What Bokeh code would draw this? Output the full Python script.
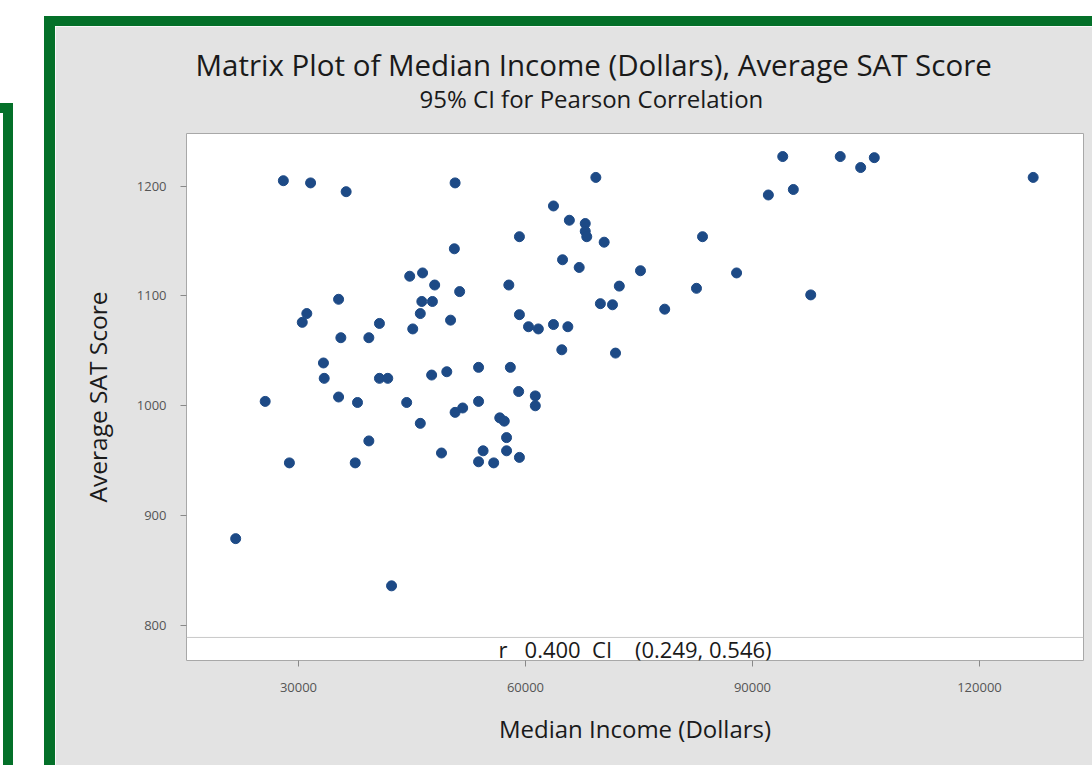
from bokeh.plotting import figure
from bokeh.models import Range1d, FixedTicker, Title, Span, Label, Div, Spacer, BasicTickFormatter
from bokeh.layouts import row, column
from bokeh.embed import file_html
from bokeh.resources import INLINE

# ---------------- data ----------------
median_income = [
    28000, 31600, 36300, 50700, 69300, 94000, 101600, 104300, 106100, 92100,
    95400, 127100, 63700, 65800, 67900, 67900, 68100, 70400, 59200, 83400,
    50600, 64900, 67100, 75200, 44700, 46400, 48000, 57800, 72400, 82600,
    87900, 51300, 97700, 35300, 46300, 47700, 69900, 71500, 78400, 31100,
    30500, 46100, 40700, 45100, 50100, 59200, 60400, 61700, 63700, 65600,
    35600, 39300, 64800, 71900, 33300, 33400, 40700, 41800, 47600, 49600,
    53800, 58000, 25600, 35300, 37800, 44300, 59100, 61300, 61300, 50700,
    51700, 53800, 56600, 57200, 46100, 39300, 57500, 57500, 54400, 48900,
    53800, 55800, 59200, 28800, 37500, 21700, 42300,
]
average_sat = [
    1205, 1203, 1195, 1203, 1208, 1227, 1227, 1217, 1226, 1192,
    1197, 1208, 1182, 1169, 1166, 1159, 1154, 1149, 1154, 1154,
    1143, 1133, 1126, 1123, 1118, 1121, 1110, 1110, 1109, 1107,
    1121, 1104, 1101, 1097, 1095, 1095, 1093, 1092, 1088, 1084,
    1076, 1084, 1075, 1070, 1078, 1083, 1072, 1070, 1074, 1072,
    1062, 1062, 1051, 1048, 1039, 1025, 1025, 1025, 1028, 1031,
    1035, 1035, 1004, 1008, 1003, 1003, 1013, 1009, 1000, 994,
    998, 1004, 989, 986, 984, 968, 971, 959, 959, 957,
    949, 948, 953, 948, 948, 879, 836,
]
x_ticks = [30000, 60000, 90000, 120000]
y_ticks = [800, 900, 1000, 1100, 1200]
r_value = 0.400
ci_low, ci_high = 0.249, 0.546

title_text = "Matrix Plot of Median Income (Dollars), Average SAT Score"
subtitle_text = "95% CI for Pearson Correlation"
x_label = "Median Income (Dollars)"
y_label = "Average SAT Score"

# ---------------- style ----------------
GREEN = "#047029"
PANEL = "#e3e3e3"
POINT = "#1d4a86"
FONT = "Open Sans"
NB = "\u00a0"

x_lo, x_hi = 15200, 133750
y_lo, y_hi = 768, 1248
strip_line = 789
strip_text_y = 778.6

p = figure(width=1037, height=739,
           x_range=Range1d(x_lo, x_hi), y_range=Range1d(y_lo, y_hi),
           output_backend="svg", toolbar_location=None,
           min_border_left=131, min_border_right=9,
           min_border_top=107, min_border_bottom=105,
           background_fill_color="white", border_fill_color=PANEL,
           outline_line_color="#a8a8a8", outline_line_width=1)

p.xgrid.visible = False
p.ygrid.visible = False

# titles
p.title.text = title_text
p.title.text_font = FONT
p.title.text_font_size = "29.5px"
p.title.text_font_style = "normal"
p.title.text_color = "#1a1a1a"
p.title.align = "left"
p.title.offset = 9
p.title.standoff = -48

sub = Title(text=subtitle_text, text_font=FONT, text_font_size="24px",
            text_font_style="normal", text_color="#1a1a1a",
            align="left", offset=233, standoff=38)
p.add_layout(sub, "above")

# axes
for ax in (p.xaxis[0], p.yaxis[0]):
    ax.axis_line_color = None
    ax.major_tick_line_color = "#888888"
    ax.major_tick_out = 6
    ax.major_tick_in = 0
    ax.minor_tick_line_color = None
    ax.major_label_text_font = FONT
    ax.major_label_text_font_size = "13px"
    ax.major_label_text_color = "#555555"
    ax.axis_label_text_font = FONT
    ax.axis_label_text_font_size = "24px"
    ax.axis_label_text_font_style = "normal"
    ax.axis_label_text_color = "#1a1a1a"

p.xaxis.ticker = FixedTicker(ticks=x_ticks)
p.yaxis.ticker = FixedTicker(ticks=y_ticks)
p.xaxis.formatter = BasicTickFormatter(use_scientific=False)
p.xaxis.axis_label = x_label
p.yaxis.axis_label = y_label
p.xaxis.major_label_standoff = 16
p.yaxis.major_label_standoff = 14
p.xaxis.axis_label_standoff = 17
p.yaxis.axis_label_standoff = 20
p.yaxis.axis_label_text_font_size = "24.5px"

# points
p.scatter(median_income, average_sat, size=10, marker="circle",
          fill_color=POINT, line_color=POINT)

# correlation strip
p.add_layout(Span(location=strip_line, dimension="width",
                  line_color="#c8c8c8", line_width=1))
strip_txt = (f"r{NB*3}{r_value:.3f}{NB*2}CI{NB*4}"
             f"({ci_low:.3f}, {ci_high:.3f})")
p.add_layout(Label(x=(x_lo + x_hi) / 2, y=strip_text_y, text=strip_txt,
                   text_align="center", text_baseline="middle",
                   text_font=FONT, text_font_size="22px", text_color="#1a1a1a"))

# surrounding frames
left_panel = column(Spacer(width=13, height=103),
                    Div(text="", width=13, height=10, margin=0,
                        styles={"background-color": GREEN}),
                    row(Spacer(width=3, height=652),
                        Div(text="", width=10, height=652, margin=0,
                            styles={"background-color": GREEN})))
gap = Spacer(width=31, height=765)
main = column(Spacer(width=1048, height=16),
              Div(text="", width=1048, height=10, margin=0,
                  styles={"background-color": GREEN}),
              row(Div(text="", width=11, height=739, margin=0,
                      styles={"background-color": GREEN}), p))
page = row(left_panel, gap, main)

open("out.html", "w").write(file_html(page, INLINE))
